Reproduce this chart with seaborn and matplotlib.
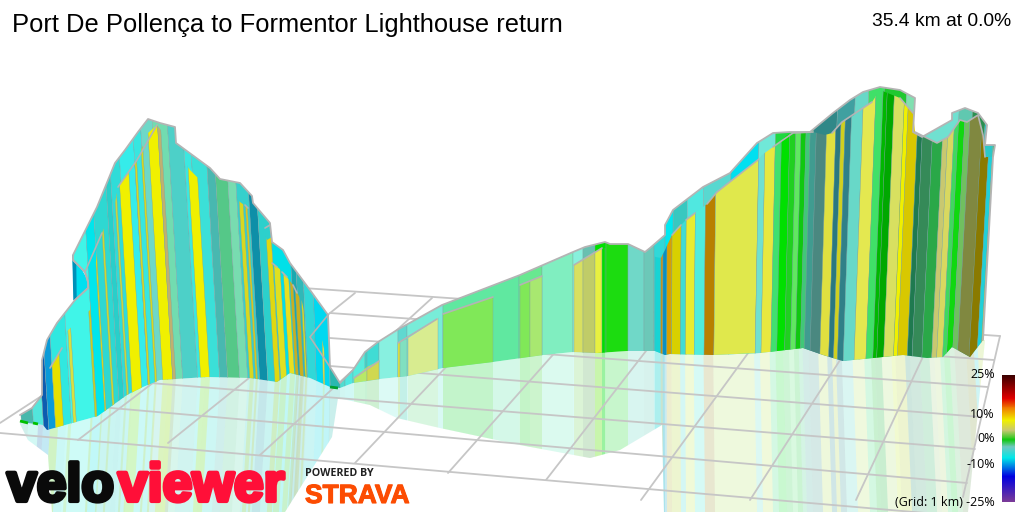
import numpy as np
import pandas as pd
import matplotlib
matplotlib.use("Agg")
import matplotlib.pyplot as plt
import matplotlib.patheffects as pe
from matplotlib.colors import LinearSegmentedColormap
from matplotlib.patches import Polygon
import seaborn as sns

# profile (pixels of the 1024x512 image)
top_x = [20, 32, 42, 42, 47, 57, 75, 88, 88, 85, 73, 73, 97, 115, 125, 138, 148, 160, 175, 176, 210, 220, 240, 252,
         253, 270, 272, 283, 290, 310, 328, 330, 340, 353, 365, 378, 397, 442, 520, 573, 585, 605, 610, 628, 645,
         650, 665, 665, 673, 703, 730, 757, 773, 790, 810, 833, 850, 863, 880, 900, 915, 913, 922, 952, 952, 965,
         978, 987, 985, 995, 993, 983]
top_y = [415, 408, 395, 360, 340, 323, 300, 288, 282, 272, 260, 255, 207, 163, 150, 132, 119, 123, 127, 143, 168,
         179, 183, 196, 203, 223, 242, 250, 263, 290, 315, 367, 383, 370, 352, 342, 330, 305, 275, 252, 247, 242,
         244, 244, 252, 248, 235, 225, 210, 187, 173, 143, 133, 132, 132, 113, 100, 92, 87, 90, 98, 132, 137, 120,
         113, 108, 113, 125, 145, 145, 157, 340]
base_x = [20, 43, 47, 98, 127, 143, 160, 207, 250, 277, 290, 310, 330, 340, 353, 380, 408, 443, 493, 543, 573, 597,
          627, 655, 665, 670, 713, 760, 803, 823, 843, 863, 883, 903, 927, 943, 952, 970, 983]
base_y = [422, 425, 430, 416, 395, 387, 380, 377, 378, 382, 373, 378, 387, 388, 383, 379, 376, 368, 362, 355, 352,
          353, 351, 351, 355, 354, 355, 353, 348, 355, 361, 359, 357, 355, 358, 357, 347, 357, 340]

# lower top line, the side of the ribbon nearest to the viewer
front_x = [20, 50, 62, 65, 90, 97, 102, 115, 118, 137, 148, 157, 163, 190, 197, 233, 247, 253, 267, 272, 273, 283,
           293, 302, 310, 322, 328, 338, 354, 367, 379, 398, 407, 437, 443, 493, 520, 542, 574, 583, 602, 606, 661,
           665, 672, 681, 686, 695, 707, 717, 759, 762, 773, 780, 787, 793, 807, 813, 825, 832, 842, 850, 863, 872,
           880, 900, 913, 915, 937, 948, 960, 967, 978, 983, 985, 993, 983]
front_y = [422, 368, 348, 333, 310, 253, 233, 203, 187, 160, 133, 125, 133, 170, 177, 197, 207, 213, 240, 237, 263,
           272, 285, 302, 337, 340, 367, 385, 378, 367, 361, 343, 339, 319, 314, 297, 285, 276, 265, 259, 248, 248,
           258, 250, 235, 225, 220, 213, 204, 192, 159, 155, 147, 142, 135, 133, 133, 132, 135, 133, 122, 118, 108,
           102, 90, 98, 113, 132, 143, 137, 120, 122, 115, 135, 157, 157, 340]

back_edges = [11, 23, 33, 38, 45, 61, 87, 96, 110, 115, 125, 140, 148, 160, 175, 190, 197, 212, 220, 232, 240, 252,
              260, 272, 290, 295, 302, 312, 328, 340,
              345, 353, 365, 367, 379, 398, 407, 443, 519, 542, 573, 583, 595, 605.5, 628, 644, 654,
              665, 673, 687, 703, 730, 757, 773, 810, 833, 850, 863, 878, 900, 913, 916, 952, 965, 978, 987, 999]
back_colors = ["#48b8ac", "#52e6dc", "#0c5cb0", "#0a9ad8", "#30e8e0", "#40f5e8", "#00e6ec", "#2ed8d2", "#28cfca",
               "#30dcd8", "#35ecea", "#37e6e0", "#6ed8c8", "#72dcb0", "#4dd0c8", "#3be8e0", "#3be0d8", "#48b8b0",
               "#55c888", "#78dcb0", "#36d0cc", "#0e8fa8", "#2cd0cc", "#00e0e8", "#1aa8b0", "#30b8b8", "#30d8d8",
               "#00d8f0", "#2ab8b0",
               "#50dcd0", "#50e8e0", "#58ecdc", "#3ad8cc", "#40dcd4", "#88f0e0", "#60d8d0", "#78ecd8", "#60e8a0",
               "#68e890", "#80eec0", "#88f0dc", "#68c0b0", "#00e000", "#1cdc10", "#70d8c8", "#6cc8b8",
               "#30d8d8", "#00e8f0", "#38c8c0", "#50e8e0", "#58d8d0", "#00e0f0", "#70e8d8", "#20d840", "#308888",
               "#40a0a0", "#68d8c8", "#40e068", "#20c830", "#80e0b0", "#50d0c8", "#70e0d0", "#60c8b0", "#2a9050",
               "#2cc8c8", "#38c880"]

front_left = [45, 63, 85, 95, 103, 118, 123.5, 140, 147, 155, 165, 193, 242, 248, 267, 273, 282, 288, 293, 299, 320,
              354, 367, 398, 399.5, 408, 443, 520, 530, 574, 583, 595, 602]
front_right = [53, 66, 87, 96.5, 105, 120, 133.5, 142, 149, 165, 168, 202, 246, 250, 272, 279, 287, 291, 297, 301,
               322, 367, 379, 399.5, 407, 438, 493, 530, 542, 583, 595, 602, 605]
front_colors = ["#e6e000", "#d8e040", "#c8d020", "#d8d820", "#d0d830", "#c8d840", "#f0f000", "#d8d820", "#d8d820",
                "#f0f000", "#c0b070", "#f0f000", "#d8d820", "#d8c820", "#e0d810", "#e0e020", "#e8e020", "#c8b020",
                "#c8b020", "#d8d820", "#e0e040",
                "#b8e868", "#d0d850", "#e8e830", "#80e0c0", "#d8ec90", "#80e858", "#80e858", "#a8e870", "#d8e060",
                "#c0cc68", "#e8f040", "#00e000"]

right_edges = [655, 661, 663, 667, 672, 681, 686, 695, 705, 715, 757, 763, 773, 779, 787, 793, 798, 803, 807, 813,
               823, 832, 837, 841, 847, 858, 870, 877, 881, 888, 898, 902, 912, 917, 927, 937, 942, 948, 952, 958,
               963, 975, 983, 987, 992, 995]
right_colors = ["#18d4d4", "#c89010", "#0a90c0", "#d8a000", "#d8d000", "#40dcd4", "#e8ec30", "#50ecdc", "#b88000",
                "#e0e84c", "#70e0d0", "#e8e840", "#40e070", "#00e000", "#20d020", "#60e860", "#10c810", "#40c878",
                "#409c90", "#4a8880", "#e0e040", "#2a7880", "#d0d020", "#308088", "#68d8c8", "#e4e850", "#40e068",
                "#00b800", "#00a800", "#d8e060", "#f0f000", "#d8c800", "#1f7a50", "#358a58", "#2aa848", "#c8c870",
                "#d8d860", "#40d860", "#10d810", "#70c060", "#808840", "#8a7a00", "#20d0d8", "#d8d820", "#c8e020"]

# grey line on the near side, one list per piece
front_lines = [[(50, 368), (62, 348)], [(73, 260), (85, 272), (88, 282), (88, 288), (75, 300)],
               [(85, 272), (102, 233)], [(118, 187), (137, 160), (157, 125)], [(245, 205), (248, 208)],
               [(265, 228), (270, 225)], [(272, 263), (277, 267)], [(282, 272), (287, 277)], [(293, 285), (297, 293)],
               [(328, 315), (310, 337), (330, 367)],
               [(354, 378), (379, 361)], [(398, 343), (437, 319)], [(443, 314), (493, 297)], [(520, 285), (542, 276)],
               [(574, 265), (602, 248)],
               [(672, 235), (681, 225)], [(686, 220), (695, 213)], [(707, 204), (717, 192), (759, 159)],
               [(773, 147), (780, 142), (793, 133), (813, 132)], [(832, 133), (842, 122), (863, 108), (872, 102)],
               [(900, 98), (913, 113)], [(915, 132), (937, 143), (948, 137), (960, 120), (967, 122), (978, 115),
                                         (983, 135), (985, 157)]]

reflect_x = [20, 28, 48, 52, 285, 332, 338, 370, 397, 440, 520, 590, 620, 662, 664, 968, 985]
reflect_y = [424, 440, 455, 512, 512, 437, 398, 405, 418, 428, 445, 458, 450, 425, 512, 512, 340]

# grid, near end and far end of each line
long_lines = [(303, 288, 1000, 336), (330, 313, 994, 360), (330, 338, 988, 387), (330, 366, 982, 417),
              (100, 379, 975, 449), (100, 407, 967, 483), (0, 433, 960, 516)]
cross_lines = [(0, 423, 223, 278), (78, 440, 280, 286), (168, 443, 355, 293), (260, 455, 432, 298),
               (355, 463, 505, 305), (448, 473, 590, 313), (546, 480, 670, 320), (641, 500, 770, 323),
               (750, 500, 860, 329), (856, 500, 935, 331), (963, 497, 1000, 336)]

bar_labels = ["25%", "10%", "0%", "-10%", "(Grid: 1 km) -25%"]
bar_label_y = [375, 414, 439, 465, 502]
bar_stops = [0, .18, .26, .356, .433, .512, .567, .654, .803, 1]
bar_colors = ["#3c0000", "#e00000", "#f08000", "#f0f000", "#c8c870", "#10c810", "#70c8c0", "#00e8e8", "#0000e0",
              "#7a3a98"]

sns.set_theme(style="white")
plt.rcParams["font.family"] = ["Liberation Sans", "DejaVu Sans"]

fig = plt.figure(figsize=(10.24, 5.12), dpi=100)
ax = fig.add_axes([0, 0, 1, 1])
ax.set_xlim(0, 1024)
ax.set_ylim(512, 0)
ax.axis("off")

grid_color = "#c6c6c6"
for x0, y0, x1, y1 in long_lines + cross_lines:
    ax.plot([x0, x1], [y0, y1], color=grid_color, lw=1.3, zorder=2)


def lean(x):
    # walls fan out towards the top because of the camera position
    return np.interp(x, [0, 290, 340, 650, 1000], [0.06, 0.06, 0, 0, -0.06])


def strip(x0, x1, color, clip, alpha=1.0, z=3, mirror=False):
    if mirror:
        # reflection leans the other way under the ground line
        y = [340, 512]
        xa = [x0 + lean(x0) * 130 - lean(x0) * (v - 380) for v in y]
        xb = [x1 + lean(x1) * 130 - lean(x1) * (v - 380) for v in y]
    else:
        y = [60, 440]
        xa = [x0 + lean(x0) * (v - 250) for v in y]
        xb = [x1 + lean(x1) * (v - 250) for v in y]
    p = Polygon([(xa[0], y[0]), (xb[0], y[0]), (xb[1], y[1]), (xa[1], y[1])], closed=True, facecolor=color,
                edgecolor="#80a0a0" if not mirror else "none", lw=0.25, alpha=alpha, zorder=z)
    ax.add_patch(p)
    p.set_clip_path(clip)


wall_xy = list(zip(top_x, top_y)) + list(zip(base_x[::-1], base_y[::-1]))
wall = Polygon(wall_xy, closed=True, facecolor="none", edgecolor="none", transform=ax.transData)
ax.add_patch(wall)
front_xy = list(zip(front_x, front_y)) + list(zip(base_x[::-1], base_y[::-1]))
front = Polygon(front_xy, closed=True, facecolor="none", edgecolor="none", transform=ax.transData)
ax.add_patch(front)
reflect_xy = list(zip(reflect_x, reflect_y)) + list(zip(base_x[::-1], base_y[::-1]))
reflect = Polygon(reflect_xy, closed=True, facecolor="#f2fdfb", edgecolor="none", zorder=1)
ax.add_patch(reflect)

for x0, x1, c in zip(back_edges[:-1], back_edges[1:], back_colors):
    if x0 < 655:
        strip(x0, x1, c, reflect, alpha=0.2, z=1.2, mirror=True)
for x0, x1, c in zip(front_left, front_right, front_colors):
    strip(x0, x1, c, reflect, alpha=0.2, z=1.3, mirror=True)
for x0, x1, c in zip(right_edges[:-1], right_edges[1:], right_colors):
    strip(x0, x1, c, reflect, alpha=0.17, z=1.3, mirror=True)

# bit of the far side showing through the notch on the first climb
ax.fill([73, 88, 88, 75], [255, 282, 288, 300], color="#00e0f0", zorder=2.5)
ax.fill([73, 75.5, 76, 74], [255, 258, 298, 300], color="#0090b8", zorder=2.6)

for x0, x1, c in zip(back_edges[:-1], back_edges[1:], back_colors):
    strip(x0, x1, c, wall, z=3)
for x0, x1, c in zip(front_left, front_right, front_colors):
    strip(x0, x1, c, front, z=4)
for x0, x1, c in zip(right_edges[:-1], right_edges[1:], right_colors):
    strip(x0, x1, c, front, z=4)

outline_grey = "#b4b4b4"
rows = [(i, x, y) for i, line in enumerate(front_lines) for x, y in line]
lines_df = pd.DataFrame(rows, columns=["piece", "x", "y"])
sns.lineplot(data=lines_df, x="x", y="y", units="piece", estimator=None, sort=False, color=outline_grey, lw=1.2,
             ax=ax, zorder=6)
sns.lineplot(x=top_x, y=top_y, estimator=None, sort=False, color=outline_grey, lw=1.3, ax=ax, zorder=6)
ax.set_xlim(0, 1024)
ax.set_ylim(512, 0)
ax.axis("off")

# start of the ride, small green ends on the road
ax.plot([20, 28], [421, 423], color="#00c000", lw=2, zorder=6, solid_capstyle="butt")
ax.plot([33, 38], [423, 424], color="#00c000", lw=2, zorder=6, solid_capstyle="butt")
ax.plot([330, 338], [387, 388], color="#00a030", lw=2, zorder=6, solid_capstyle="butt")

ax.text(12, 25, "Port De Pollença to Formentor Lighthouse return", fontsize=18.4, color="black", va="center",
        ha="left", zorder=8)
ax.text(1011, 22, "35.4 km at 0.0%", fontsize=13.9, color="black", va="center", ha="right", zorder=8)

for lab, y in zip(bar_labels, bar_label_y):
    ax.text(995, y, lab, fontsize=9, family=["Open Sans", "DejaVu Sans"], color="black", va="center", ha="right",
            zorder=8)

stops = list(zip(bar_stops, bar_colors))
cmap = LinearSegmentedColormap.from_list("gradient", stops)
cax = fig.add_axes([1002 / 1024, 1 - 502 / 512, 13 / 1024, 127 / 512])
sns.heatmap(np.linspace(0, 1, 127).reshape(-1, 1), cmap=cmap, vmin=0, vmax=1, cbar=False, xticklabels=False,
            yticklabels=False, ax=cax)

ax.text(7, 501, "velo", fontsize=38.5, fontweight="bold", color="#0a0a0a", va="baseline", ha="left",
        zorder=9, path_effects=[pe.withStroke(linewidth=3, foreground="#0a0a0a")])
ax.text(118, 501, "viewer", fontsize=38.5, fontweight="bold", color="#ff0f38", va="baseline",
        ha="left", zorder=9, path_effects=[pe.withStroke(linewidth=3, foreground="#ff0f38")])
ax.text(305, 473, "POWERED BY", fontsize=7.7, fontweight="bold", family=["Open Sans", "DejaVu Sans"],
        color="#222222", va="center", ha="left", zorder=9)
ax.text(305, 503, "STRAVA", fontsize=19, fontweight="bold", color="#fc4c02", va="baseline",
        ha="left", zorder=9, path_effects=[pe.withStroke(linewidth=0.8, foreground="#fc4c02")])

fig.savefig("out.png", dpi=100)
